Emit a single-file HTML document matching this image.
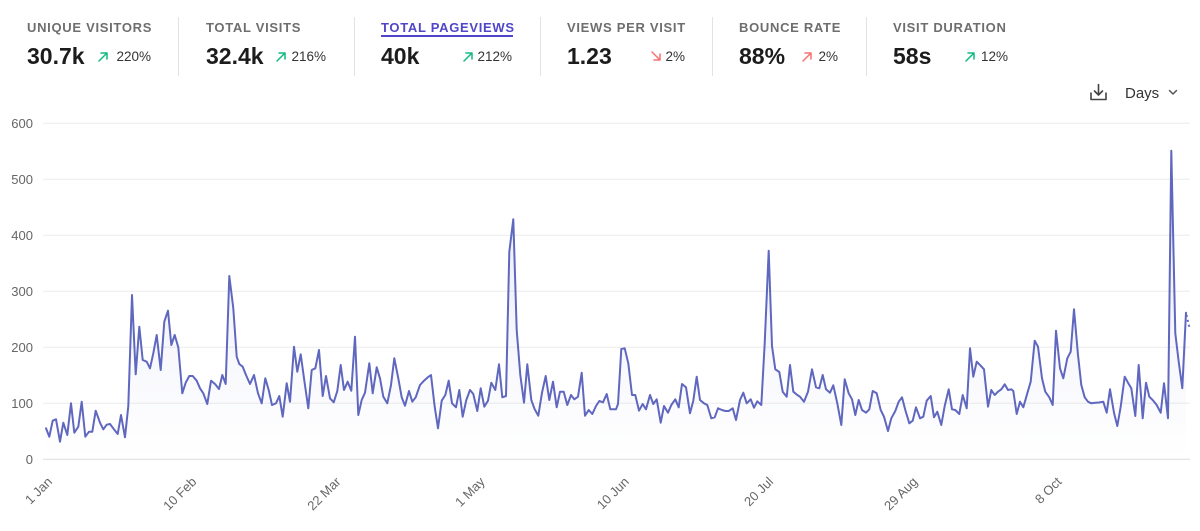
<!DOCTYPE html>
<html><head><meta charset="utf-8"><style>
html,body{margin:0;padding:0;background:#fff;}
body{width:1200px;height:531px;overflow:hidden;}
svg{display:block;font-family:"Liberation Sans",Arial,sans-serif;}
</style></head><body>
<svg width="1200" height="531" viewBox="0 0 1200 531" xmlns="http://www.w3.org/2000/svg">
<defs>
<linearGradient id="g" x1="0" y1="123" x2="0" y2="459" gradientUnits="userSpaceOnUse">
<stop offset="0" stop-color="rgb(101,116,205)" stop-opacity="0.16"/>
<stop offset="1" stop-color="rgb(101,116,205)" stop-opacity="0"/>
</linearGradient>
</defs>
<!-- header -->
<g font-size="13" font-weight="bold" fill="#6e6e6e" letter-spacing="0.7">
<text x="27" y="32">UNIQUE VISITORS</text>
<text x="206" y="32">TOTAL VISITS</text>
<text x="381" y="32" fill="#4f46c8">TOTAL PAGEVIEWS</text>
<text x="567" y="32">VIEWS PER VISIT</text>
<text x="739" y="32">BOUNCE RATE</text>
<text x="893" y="32">VISIT DURATION</text>
</g>
<rect x="381" y="35" width="132" height="2" fill="#4f46c8"/>
<g font-size="23" font-weight="bold" fill="#1c1c1c">
<text x="27" y="64">30.7k</text>
<text x="206" y="64">32.4k</text>
<text x="381" y="64">40k</text>
<text x="567" y="64">1.23</text>
<text x="739" y="64">88%</text>
<text x="893" y="64">58s</text>
</g>
<g font-size="13.5" fill="#333" text-anchor="end">
<text x="151" y="61">220%</text>
<text x="326" y="61">216%</text>
<text x="512" y="61">212%</text>
<text x="685" y="61">2%</text>
<text x="838" y="61">2%</text>
<text x="1008" y="61">12%</text>
</g>
<g fill="none" stroke-width="1.5" stroke-linecap="round" stroke-linejoin="round">
<path d="M99 61 L107 53 M101 53 H107 V59" stroke="#10b981"/>
<path d="M277 61 L285 53 M279 53 H285 V59" stroke="#10b981"/>
<path d="M464 61 L472 53 M466 53 H472 V59" stroke="#10b981"/>
<path d="M652 52 L660 60 M660 54 V60 H654" stroke="#f87171"/>
<path d="M803 61 L811 53 M805 53 H811 V59" stroke="#f87171"/>
<path d="M966 61 L974 53 M968 53 H974 V59" stroke="#10b981"/>
</g>
<g stroke="#e3e3e3" stroke-width="1">
<line x1="178.5" y1="17" x2="178.5" y2="76"/>
<line x1="354.5" y1="17" x2="354.5" y2="76"/>
<line x1="540.5" y1="17" x2="540.5" y2="76"/>
<line x1="712.5" y1="17" x2="712.5" y2="76"/>
<line x1="866.5" y1="17" x2="866.5" y2="76"/>
</g>
<!-- download + Days -->
<g fill="none" stroke="#444" stroke-width="1.6" stroke-linecap="round" stroke-linejoin="round">
<path d="M1091 93 V99.5 H1106 V93"/>
<path d="M1098.5 84.5 V95 M1094.5 91 L1098.5 95 L1102.5 91"/>
<path d="M1169.5 90.5 L1173 94 L1176.5 90.5" stroke="#555" stroke-width="1.5"/>
</g>
<text x="1125" y="98" font-size="15" fill="#333">Days</text>
<!-- grid -->
<g stroke="#ececec" stroke-width="1">
<line x1="43" y1="123.3" x2="1190" y2="123.3"/>
<line x1="43" y1="179.3" x2="1190" y2="179.3"/>
<line x1="43" y1="235.3" x2="1190" y2="235.3"/>
<line x1="43" y1="291.3" x2="1190" y2="291.3"/>
<line x1="43" y1="347.3" x2="1190" y2="347.3"/>
<line x1="43" y1="403.3" x2="1190" y2="403.3"/>
<line x1="43" y1="459.3" x2="1190" y2="459.3" stroke="#dedede"/>
</g>
<g font-size="13" fill="#666" text-anchor="end">
<text x="33" y="127.8">600</text>
<text x="33" y="183.8">500</text>
<text x="33" y="239.8">400</text>
<text x="33" y="295.8">300</text>
<text x="33" y="351.8">200</text>
<text x="33" y="407.8">100</text>
<text x="33" y="463.8">0</text>
</g>
<g font-size="13" fill="#666" text-anchor="end">
<text x="53" y="482.5" transform="rotate(-45 53 482.5)">1 Jan</text>
<text x="197.2" y="482.5" transform="rotate(-45 197.2 482.5)">10 Feb</text>
<text x="341.4" y="482.5" transform="rotate(-45 341.4 482.5)">22 Mar</text>
<text x="485.6" y="482.5" transform="rotate(-45 485.6 482.5)">1 May</text>
<text x="629.8" y="482.5" transform="rotate(-45 629.8 482.5)">10 Jun</text>
<text x="774" y="482.5" transform="rotate(-45 774 482.5)">20 Jul</text>
<text x="918.2" y="482.5" transform="rotate(-45 918.2 482.5)">29 Aug</text>
<text x="1062.4" y="482.5" transform="rotate(-45 1062.4 482.5)">8 Oct</text>
</g>
<!-- series -->
<polygon fill="url(#g)" points="46,459.3 46,428.3 49.3,436.7 52.7,420.7 56,419.3 60,441.7 63.3,422.7 67.3,435 71,403.3 74.3,432.7 78.3,426.7 81.7,401.7 85.3,436.7 89,431.7 92.3,431.7 95.7,410.7 100,422.7 103.3,429.3 106.7,424.7 110,424 114,429.3 117.7,434 121,415 125,437.3 128.3,406 132,295 135.7,374.3 139.3,326.7 142.7,360 146.7,361.7 150,368.3 153.3,353.3 156.7,335 160.7,370 164.3,321.7 168,310.7 171.3,345 174.7,335 178.3,347.3 182.3,393.3 185.7,382.7 189.3,376 192.7,376 196.7,380.7 200,388.3 203.3,393.3 207.3,404 211,380.7 215,384 219,389 222.3,375 225.7,384 229.3,276 233.3,308.3 236.7,356.7 239.3,364 242.7,366.7 246,375 250,384 254,375 258,393.3 261.7,403.3 265.3,378.3 268.7,390 272,405 276,403.3 279.3,396 282.7,416.7 286.7,383.3 290,401.7 294,346.7 297.3,371.7 300.7,354.3 304.7,383.3 308.3,408.3 311.7,370 315.3,368.3 319,350 322.7,396 326,376 330,398.3 333.7,402.3 337.3,391 340.7,365 344,390 347.7,381.7 351.3,390.7 355,336.7 358.3,415 361.7,400 365,392.7 369.3,363.3 372.7,393.3 376.7,367.3 380,378.3 383.3,396.7 387.3,403.3 391,385 394.3,358.3 398.3,378.3 401.7,397.3 405,405.7 409,391 412.3,401.7 415.7,397.3 420,385 424,380.7 427.3,377.7 431,375 434.7,406.7 438,428.3 441.7,400.7 445.3,395 448.7,380.7 452,403.3 456,407.3 459.3,390 462.7,416.7 466.3,400 470,390 473.3,394 477.3,411 480.7,388.3 484.3,406.7 488,400.7 491.3,382.7 495.3,390 499,364.3 502.3,397.3 506,396 509.3,251.7 513.3,219.3 516.7,330 520.3,375 524,402.7 527.3,364.3 531.3,400 534.7,409.3 538.3,415.7 542,392.7 545.7,376 549.3,400 553,381.7 556.7,407.3 560,391.7 563.7,391.7 567.3,405 571,395 574.3,399.3 578,396.7 581.7,372.7 585,415.7 588.7,410 592.3,414 596,406 599.3,401 603,402.3 606.7,394 610.3,409.3 616,409.3 618,404 621.3,349 624.7,348.3 628.3,363.3 632,395 635.3,395 639,410.7 642.7,404 646,409.3 650,395 653.3,404 656.7,399.3 660.7,422.7 664,406 668,412.7 671.3,405 675.3,399.3 678.7,407.3 682,384 686,387.3 690,413.3 693.3,400.7 696.7,376.7 700,400 704,403.3 707.3,405 711.3,418.3 714.7,417.3 718,408.3 722,410 725.3,411 728.7,411 732.7,408.3 736,420 740,400 743.3,392.7 746.7,403.3 750.7,399.3 754,407.7 757.3,401.3 761.3,405 764.7,343.3 768.7,250.7 772,346 775.3,369.3 779.3,372 782.7,391.7 786.7,396.7 790,365 793.3,391.7 797.3,395 800,396.7 804,401.7 808,391.7 812,369.3 816,387.3 819.3,388.3 822.7,375 826,389.3 830,392.7 833.3,385.3 837.3,403.3 841.3,425 844.7,379.3 848.7,393.3 852,399.3 855.3,415 858.7,400 862,410 866,412.7 869.3,409.3 872.7,391 876.7,393.3 880.7,410 884,416.7 888,431 891.3,418.3 895.3,411 898.7,401.7 902,397.3 905.3,410 909.3,423.3 912.7,420.7 916,407.3 920,418.3 923.3,416.7 926.7,400.7 930.7,396 934,417.3 937.3,411.7 941.3,425 944.7,406 948.7,389.3 952,409.3 955.3,410 959.3,414 962.7,395 966.7,408.3 970,348.3 973.3,376.7 976.7,361.7 980.7,365.7 984,369.3 988,406.7 991.3,390 994.7,395 998,391.7 1001.3,389.3 1004.7,384.3 1008,390 1011.3,389.3 1013.3,391 1016.7,414 1020,401.7 1023.3,407.3 1027.3,393.3 1030.7,381.7 1034.7,340.7 1038,346.7 1042,378.3 1045.3,391.7 1049.3,397.3 1052.7,405 1056,330.7 1060,368.3 1063.3,378.3 1067.3,358.3 1070.7,351.7 1074,309.3 1078,355 1081.3,385 1084.7,397.3 1088,401.7 1091.3,403.3 1095.3,402.7 1099,402.5 1103.3,401.7 1106.7,412.7 1110,389.3 1114,412.7 1117.3,426 1120.7,406.7 1124.7,376.7 1128,382.7 1131.3,388.3 1135.3,416 1138.7,365 1142.7,418.3 1146,382.7 1149.3,396.7 1153.3,400.7 1156.7,405 1160.7,412.7 1164,383.3 1168,418.3 1171.3,150.7 1175.3,333.3 1178.7,361.7 1182.3,388.3 1186,312.7 1186,459.3"/>
<polyline fill="none" stroke="#5f67bf" stroke-width="2" stroke-linejoin="round" stroke-linecap="round" points="46,428.3 49.3,436.7 52.7,420.7 56,419.3 60,441.7 63.3,422.7 67.3,435 71,403.3 74.3,432.7 78.3,426.7 81.7,401.7 85.3,436.7 89,431.7 92.3,431.7 95.7,410.7 100,422.7 103.3,429.3 106.7,424.7 110,424 114,429.3 117.7,434 121,415 125,437.3 128.3,406 132,295 135.7,374.3 139.3,326.7 142.7,360 146.7,361.7 150,368.3 153.3,353.3 156.7,335 160.7,370 164.3,321.7 168,310.7 171.3,345 174.7,335 178.3,347.3 182.3,393.3 185.7,382.7 189.3,376 192.7,376 196.7,380.7 200,388.3 203.3,393.3 207.3,404 211,380.7 215,384 219,389 222.3,375 225.7,384 229.3,276 233.3,308.3 236.7,356.7 239.3,364 242.7,366.7 246,375 250,384 254,375 258,393.3 261.7,403.3 265.3,378.3 268.7,390 272,405 276,403.3 279.3,396 282.7,416.7 286.7,383.3 290,401.7 294,346.7 297.3,371.7 300.7,354.3 304.7,383.3 308.3,408.3 311.7,370 315.3,368.3 319,350 322.7,396 326,376 330,398.3 333.7,402.3 337.3,391 340.7,365 344,390 347.7,381.7 351.3,390.7 355,336.7 358.3,415 361.7,400 365,392.7 369.3,363.3 372.7,393.3 376.7,367.3 380,378.3 383.3,396.7 387.3,403.3 391,385 394.3,358.3 398.3,378.3 401.7,397.3 405,405.7 409,391 412.3,401.7 415.7,397.3 420,385 424,380.7 427.3,377.7 431,375 434.7,406.7 438,428.3 441.7,400.7 445.3,395 448.7,380.7 452,403.3 456,407.3 459.3,390 462.7,416.7 466.3,400 470,390 473.3,394 477.3,411 480.7,388.3 484.3,406.7 488,400.7 491.3,382.7 495.3,390 499,364.3 502.3,397.3 506,396 509.3,251.7 513.3,219.3 516.7,330 520.3,375 524,402.7 527.3,364.3 531.3,400 534.7,409.3 538.3,415.7 542,392.7 545.7,376 549.3,400 553,381.7 556.7,407.3 560,391.7 563.7,391.7 567.3,405 571,395 574.3,399.3 578,396.7 581.7,372.7 585,415.7 588.7,410 592.3,414 596,406 599.3,401 603,402.3 606.7,394 610.3,409.3 616,409.3 618,404 621.3,349 624.7,348.3 628.3,363.3 632,395 635.3,395 639,410.7 642.7,404 646,409.3 650,395 653.3,404 656.7,399.3 660.7,422.7 664,406 668,412.7 671.3,405 675.3,399.3 678.7,407.3 682,384 686,387.3 690,413.3 693.3,400.7 696.7,376.7 700,400 704,403.3 707.3,405 711.3,418.3 714.7,417.3 718,408.3 722,410 725.3,411 728.7,411 732.7,408.3 736,420 740,400 743.3,392.7 746.7,403.3 750.7,399.3 754,407.7 757.3,401.3 761.3,405 764.7,343.3 768.7,250.7 772,346 775.3,369.3 779.3,372 782.7,391.7 786.7,396.7 790,365 793.3,391.7 797.3,395 800,396.7 804,401.7 808,391.7 812,369.3 816,387.3 819.3,388.3 822.7,375 826,389.3 830,392.7 833.3,385.3 837.3,403.3 841.3,425 844.7,379.3 848.7,393.3 852,399.3 855.3,415 858.7,400 862,410 866,412.7 869.3,409.3 872.7,391 876.7,393.3 880.7,410 884,416.7 888,431 891.3,418.3 895.3,411 898.7,401.7 902,397.3 905.3,410 909.3,423.3 912.7,420.7 916,407.3 920,418.3 923.3,416.7 926.7,400.7 930.7,396 934,417.3 937.3,411.7 941.3,425 944.7,406 948.7,389.3 952,409.3 955.3,410 959.3,414 962.7,395 966.7,408.3 970,348.3 973.3,376.7 976.7,361.7 980.7,365.7 984,369.3 988,406.7 991.3,390 994.7,395 998,391.7 1001.3,389.3 1004.7,384.3 1008,390 1011.3,389.3 1013.3,391 1016.7,414 1020,401.7 1023.3,407.3 1027.3,393.3 1030.7,381.7 1034.7,340.7 1038,346.7 1042,378.3 1045.3,391.7 1049.3,397.3 1052.7,405 1056,330.7 1060,368.3 1063.3,378.3 1067.3,358.3 1070.7,351.7 1074,309.3 1078,355 1081.3,385 1084.7,397.3 1088,401.7 1091.3,403.3 1095.3,402.7 1099,402.5 1103.3,401.7 1106.7,412.7 1110,389.3 1114,412.7 1117.3,426 1120.7,406.7 1124.7,376.7 1128,382.7 1131.3,388.3 1135.3,416 1138.7,365 1142.7,418.3 1146,382.7 1149.3,396.7 1153.3,400.7 1156.7,405 1160.7,412.7 1164,383.3 1168,418.3 1171.3,150.7 1175.3,333.3 1178.7,361.7 1182.3,388.3 1186,312.7"/>
<line x1="1186.5" y1="315" x2="1189.5" y2="328" stroke="#5f67bf" stroke-width="2" stroke-dasharray="2 3"/>
</svg>
</body></html>
